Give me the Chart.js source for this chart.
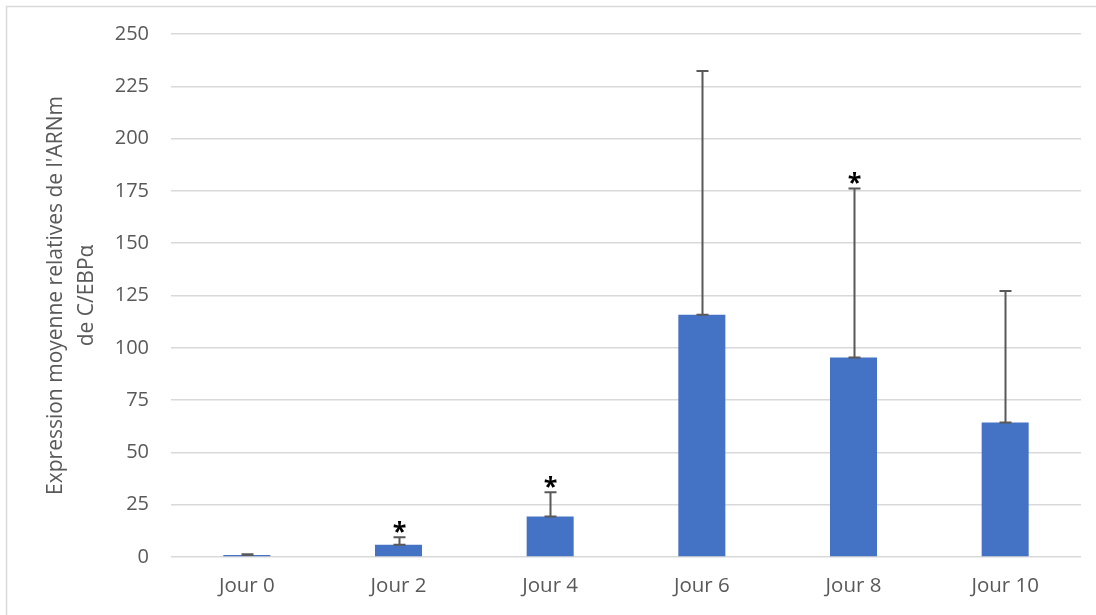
<!DOCTYPE html>
<html>
<head>
<meta charset="utf-8">
<script src="https://cdn.jsdelivr.net/npm/chart.js@4.4.1/dist/chart.umd.min.js"></script>
<style>
  html, body { margin: 0; padding: 0; background: #fff; }
  #wrap { width: 1096px; height: 615px; position: relative; }
</style>
</head>
<body>
<div id="wrap"><canvas id="chart"></canvas></div>
<script>
const labels = ['Jour 0', 'Jour 2', 'Jour 4', 'Jour 6', 'Jour 8', 'Jour 10'];
const means = [1, 5.8, 19.4, 115.8, 95.4, 64.3];
const errPlus = [0.3, 3.6, 11.5, 116.5, 80.8, 62.9];
const stars = [false, true, true, false, true, false];
const yTicks = [0, 25, 50, 75, 100, 125, 150, 175, 200, 225, 250];

const FONT = '"Open Sans", sans-serif';
const GREY = '#595959';

// error bars (plus only, cap at both ends) and the significance stars
const errorBars = {
  id: 'errorBars',
  afterDatasetsDraw(chart) {
    const ctx = chart.ctx;
    const y = chart.scales.y;
    const meta = chart.getDatasetMeta(0);
    ctx.save();
    ctx.strokeStyle = GREY;
    ctx.lineWidth = 2;
    meta.data.forEach((bar, i) => {
      const x = Math.round(bar.x) + 0.5;
      const yLow = y.getPixelForValue(means[i]);
      const yHigh = y.getPixelForValue(means[i] + errPlus[i]);
      ctx.beginPath();
      ctx.moveTo(x, yLow);
      ctx.lineTo(x, yHigh);
      ctx.moveTo(x - 6, yHigh);
      ctx.lineTo(x + 6, yHigh);
      ctx.moveTo(x - 6, yLow);
      ctx.lineTo(x + 6, yLow);
      ctx.stroke();
      if (stars[i]) {
        ctx.fillStyle = '#000';
        ctx.font = 'bold 25px ' + FONT;
        ctx.textAlign = 'center';
        ctx.textBaseline = 'alphabetic';
        ctx.fillText('*', x, yHigh + 3);
      }
    });
    ctx.restore();
  }
};

// thin frame round the whole chart
const frame = {
  id: 'frame',
  afterDraw(chart) {
    const ctx = chart.ctx;
    ctx.save();
    ctx.strokeStyle = '#d9d9d9';
    ctx.lineWidth = 1.5;
    ctx.strokeRect(6.5, 6.5, chart.width + 20, chart.height + 20);
    ctx.restore();
  }
};

new Chart(document.getElementById('chart'), {
  type: 'bar',
  data: {
    labels: labels,
    datasets: [{
      data: means,
      backgroundColor: '#4472C4',
      borderWidth: 0,
      barPercentage: 0.31,
      categoryPercentage: 1
    }]
  },
  options: {
    responsive: true,
    maintainAspectRatio: false,
    animation: false,
    layout: { padding: { left: 0, right: 15, top: 34, bottom: 0 } },
    plugins: {
      legend: { display: false },
      tooltip: { enabled: false }
    },
    scales: {
      x: {
        grid: { display: false },
        border: { display: false },
        ticks: { color: GREY, font: { family: FONT, size: 20.5 }, padding: 9 },
        afterFit: (scale) => { scale.height = 58; }
      },
      y: {
        min: 0,
        max: 250,
        afterBuildTicks: (scale) => { scale.ticks = yTicks.map((v) => ({ value: v })); },
        grid: { color: '#d9d9d9', lineWidth: 1.5, drawTicks: false },
        border: { display: false },
        ticks: { color: GREY, font: { family: FONT, size: 20 }, padding: 22 },
        title: {
          display: true,
          text: ["Expression moyenne relatives de l'ARNm", 'de C/EBP\u03b1'],
          color: GREY,
          font: { family: FONT, size: 21, lineHeight: 1.5 },
          padding: { top: 40, bottom: 0 }
        },
        afterFit: (scale) => { scale.width = 171; }
      }
    }
  },
  plugins: [errorBars, frame]
});
</script>
</body>
</html>
